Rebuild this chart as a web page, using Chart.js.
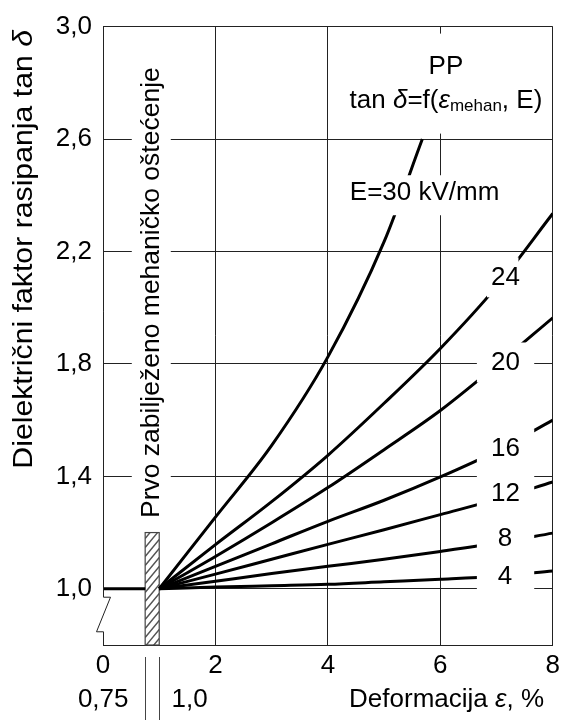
<!DOCTYPE html>
<html>
<head>
<meta charset="utf-8">
<script src="https://cdn.jsdelivr.net/npm/chart.js@4/dist/chart.umd.min.js"></script>
<style>
  html, body { margin: 0; padding: 0; background: #fff; }
</style>
</head>
<body>
<canvas id="tanChart" width="565" height="720"></canvas>
<script>
// deformation (%) where the measured curves are read
var deform = [1, 2, 3, 4, 5, 6, 7, 8];
// the E=30 kV/mm curve leaves the plot early
var deform30 = [1, 2, 3, 4, 5, 5.68];
var tan30 = [1, 1.255, 1.51, 1.825, 2.235, 2.6];
var tan24 = [1, 1.157, 1.31, 1.475, 1.66, 1.855, 2.075, 2.335];
var tan20 = [1, 1.115, 1.235, 1.36, 1.495, 1.634, 1.795, 1.964];
var tan16 = [1, 1.08, 1.16, 1.24, 1.315, 1.398, 1.49, 1.6];
var tan12 = [1, 1.052, 1.105, 1.158, 1.21, 1.264, 1.318, 1.38];
var tan8 = [1, 1.027, 1.054, 1.08, 1.105, 1.133, 1.163, 1.198];
var tan4 = [1, 1.006, 1.011, 1.016, 1.025, 1.034, 1.045, 1.063];
// flat part before the first damage
var baseX = [0, 0.75];
var baseY = [1, 1];
// first recorded mechanical damage band
var damageFrom = 0.75, damageTo = 1.0, damageTop = 1.2;
var fieldLabels = ['30', '24', '20', '16', '12', '8', '4'];
var yTicks = [1.0, 1.4, 1.8, 2.2, 2.6, 3.0];
var xTicks = [0, 2, 4, 6, 8];

var FONT = '"Liberation Sans", Arial, Helvetica, sans-serif';
var F26 = '26px ' + FONT;
var F26I = 'italic 26px ' + FONT;
var F17 = '17px ' + FONT;

function pts(xs, ys) {
    return xs.map(function (x, i) { return { x: x, y: ys[i] }; });
}

function curve(label, data) {
    return {
        label: label,
        data: data,
        borderColor: '#000',
        borderWidth: 3,
        pointRadius: 0,
        fill: false,
        cubicInterpolationMode: 'monotone'
    };
}

function drawRuns(ctx, runs, x, y, align) {
    var total = 0;
    runs.forEach(function (r) { ctx.font = r.font; total += ctx.measureText(r.text).width; });
    var cx = align === 'center' ? x - total / 2 : (align === 'right' ? x - total : x);
    ctx.textAlign = 'left';
    runs.forEach(function (r) {
        ctx.font = r.font;
        ctx.fillText(r.text, cx, y + (r.dy || 0));
        cx += ctx.measureText(r.text).width;
    });
    return total;
}

// where the field labels sit (data units), with white boxes that cut the curves
var tagBoxes = [
    { i: 1, x: 7.16, y: 2.108, x0: 6.83, x1: 7.39 },
    { i: 2, x: 7.16, y: 1.805, x0: 6.65, x1: 7.67 },
    { i: 3, x: 7.16, y: 1.497, x0: 6.65, x1: 7.67 },
    { i: 4, x: 7.16, y: 1.338, x0: 6.65, x1: 7.67 },
    { i: 5, x: 7.15, y: 1.179, x0: 6.65, x1: 7.67 },
    { i: 6, x: 7.15, y: 1.041, x0: 6.65, x1: 7.67 }
];

var overlay = {
    id: 'overlay',
    beforeDatasetsDraw: function (chart) {
        var ctx = chart.ctx, xs = chart.scales.x, ys = chart.scales.y, a = chart.chartArea;
        var x0 = xs.getPixelForValue(damageFrom), x1 = xs.getPixelForValue(damageTo);
        var yT = ys.getPixelForValue(damageTop), yB = a.bottom;
        ctx.save();
        ctx.fillStyle = '#fff';
        ctx.fillRect(x0, yT, x1 - x0, yB - yT);
        ctx.beginPath();
        ctx.rect(x0, yT, x1 - x0, yB - yT);
        ctx.clip();
        ctx.beginPath();
        ctx.strokeStyle = '#555';
        ctx.lineWidth = 1.4;
        var w = x1 - x0;
        for (var k = yT - 20; k < yB + 30; k += 9) {
            ctx.moveTo(x0, k + w * 1.2);
            ctx.lineTo(x1, k);
        }
        ctx.stroke();
        ctx.restore();
        ctx.save();
        ctx.strokeStyle = '#444';
        ctx.lineWidth = 1.2;
        ctx.strokeRect(x0, yT, w, yB - yT);
        ctx.restore();
    },
    afterDatasetsDraw: function (chart) {
        var ctx = chart.ctx, xs = chart.scales.x, ys = chart.scales.y, a = chart.chartArea;
        ctx.save();
        ctx.fillStyle = '#000';
        ctx.textBaseline = 'middle';

        // field value labels on the right
        tagBoxes.forEach(function (b) {
            var px0 = xs.getPixelForValue(b.x0), px1 = xs.getPixelForValue(b.x1);
            var py = ys.getPixelForValue(b.y);
            ctx.fillStyle = '#fff';
            ctx.fillRect(px0, py - 20, px1 - px0, 40);
            ctx.fillStyle = '#000';
            ctx.font = F26;
            ctx.textAlign = 'center';
            ctx.fillText(fieldLabels[b.i], xs.getPixelForValue(b.x), py);
        });

        // E=30 kV/mm
        var ex = xs.getPixelForValue(5.72), ey = ys.getPixelForValue(2.40);
        ctx.font = F26;
        var ew = ctx.measureText('E=' + fieldLabels[0] + ' kV/mm').width;
        ctx.fillStyle = '#fff';
        ctx.fillRect(ex - ew / 2 - 4, ey - 20, ew + 8, 40);
        ctx.fillStyle = '#000';
        ctx.textAlign = 'center';
        ctx.fillText('E=' + fieldLabels[0] + ' kV/mm', ex, ey - 2);

        // PP title block
        var tx = xs.getPixelForValue(6.1);
        ctx.fillStyle = '#fff';
        ctx.fillRect(tx - 95, a.top + 7, 190, 100);
        ctx.fillStyle = '#000';
        ctx.font = F26;
        ctx.fillText('PP', tx, a.top + 40);
        drawRuns(ctx, [
            { text: 'tan ', font: F26 },
            { text: 'δ', font: F26I },
            { text: '=f(', font: F26 },
            { text: 'ε', font: F26I },
            { text: 'mehan', font: F17, dy: 6 },
            { text: ', E)', font: F26 }
        ], tx, a.top + 74, 'center');

        // vertical note on the damage band
        var vx = xs.getPixelForValue(0.85);
        ctx.fillStyle = '#fff';
        ctx.fillRect(vx - 19, a.top + 8, 39, 495);
        ctx.fillStyle = '#000';
        ctx.save();
        ctx.translate(vx + 1, 518);
        ctx.rotate(-Math.PI / 2);
        ctx.font = '26.5px ' + FONT;
        ctx.textAlign = 'left';
        ctx.fillText('Prvo zabilježeno mehaničko oštećenje', 0, 0);
        ctx.restore();

        // left axis with break mark
        var L = Math.round(a.left) + 0.5;
        var b1 = ys.getPixelForValue(0.97), b2 = ys.getPixelForValue(0.847);
        ctx.beginPath();
        ctx.strokeStyle = '#222';
        ctx.lineWidth = 1;
        ctx.moveTo(L, a.top);
        ctx.lineTo(L, b1);
        ctx.lineTo(L + 7, b1);
        ctx.lineTo(L - 7, b2);
        ctx.lineTo(L, b2);
        ctx.lineTo(L, a.bottom);
        ctx.stroke();

        // secondary marks under the x axis
        var m0 = Math.round(xs.getPixelForValue(damageFrom)) + 0.5;
        var m1 = Math.round(xs.getPixelForValue(damageTo)) + 0.5;
        ctx.beginPath();
        ctx.strokeStyle = '#444';
        ctx.moveTo(m0, a.bottom + 12);
        ctx.lineTo(m0, 720);
        ctx.moveTo(m1, a.bottom + 12);
        ctx.lineTo(m1, 720);
        ctx.stroke();
        ctx.font = F26;
        ctx.textAlign = 'right';
        ctx.fillText('0,75', m0 - 17, 700);
        ctx.textAlign = 'left';
        ctx.fillText('1,0', m1 + 12, 700);

        // x axis title
        drawRuns(ctx, [
            { text: 'Deformacija ', font: F26 },
            { text: 'ε', font: F26I },
            { text: ', %', font: F26 }
        ], 544, 700, 'right');

        // y axis title
        ctx.save();
        ctx.translate(24, 30);
        ctx.rotate(-Math.PI / 2);
        ctx.scale(1.08, 1);
        drawRuns(ctx, [
            { text: 'Dielektrični faktor rasipanja tan ', font: '28px ' + FONT },
            { text: 'δ', font: 'italic 28px ' + FONT }
        ], 0, 0, 'right');
        ctx.restore();

        ctx.restore();
    }
};

var tanChart = new Chart(document.getElementById('tanChart').getContext('2d'), {
    type: 'line',
    data: {
        datasets: [
            curve('base', pts(baseX, baseY)),
            curve('E=30', pts(deform30, tan30)),
            curve('24', pts(deform, tan24)),
            curve('20', pts(deform, tan20)),
            curve('16', pts(deform, tan16)),
            curve('12', pts(deform, tan12)),
            curve('8', pts(deform, tan8)),
            curve('4', pts(deform, tan4))
        ]
    },
    options: {
        responsive: false,
        animation: false,
        devicePixelRatio: 1,
        layout: { padding: { top: 22, right: 8, bottom: 0, left: 0 } },
        plugins: { legend: { display: false }, tooltip: { enabled: false } },
        scales: {
            x: {
                type: 'linear',
                min: 0,
                max: 8,
                afterBuildTicks: function (s) { s.ticks = xTicks.map(function (v) { return { value: v }; }); },
                afterFit: function (s) { s.height = 75; },
                ticks: {
                    color: '#000',
                    font: { family: FONT, size: 26 },
                    padding: 5,
                    maxRotation: 0,
                    callback: function (v) { return String(v); }
                },
                grid: {
                    drawTicks: false,
                    color: function (c) { return c.tick && c.tick.value === 0 ? 'rgba(0,0,0,0)' : '#222'; },
                    lineWidth: 1
                },
                border: { display: true, color: '#222', width: 1 }
            },
            y: {
                type: 'linear',
                min: 0.8,
                max: 3.0,
                afterBuildTicks: function (s) { s.ticks = yTicks.map(function (v) { return { value: v }; }); },
                afterFit: function (s) { s.width = 103; },
                ticks: {
                    color: '#000',
                    font: { family: FONT, size: 26 },
                    padding: 11,
                    callback: function (v) { return v.toFixed(1).replace('.', ','); }
                },
                grid: { drawTicks: false, color: '#222', lineWidth: 1 },
                border: { display: false }
            }
        }
    },
    plugins: [overlay]
});
</script>
</body>
</html>
